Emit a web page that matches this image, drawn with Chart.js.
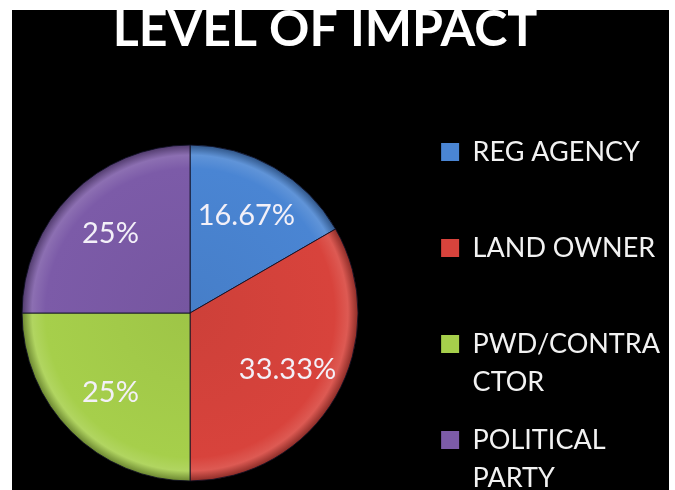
<!DOCTYPE html>
<html><head><meta charset="utf-8">
<script src="https://cdn.jsdelivr.net/npm/chart.js@4/dist/chart.umd.min.js"></script>
<style>
html,body{margin:0;padding:0;background:#fff;}
#wrap{position:relative;width:675px;height:490px;overflow:hidden;}
#bg{position:absolute;left:12px;top:10px;width:657px;height:480px;background:#000;}
canvas{position:absolute;left:0;top:0;}
</style></head><body>
<div id="wrap"><div id="bg"></div><canvas id="c" width="675" height="490"></canvas></div>
<script>
// ---- data ----
const categories = ['REG AGENCY', 'LAND OWNER', 'PWD/CONTRACTOR', 'POLITICAL PARTY'];
const legendLines = [['REG AGENCY', ''], ['LAND OWNER', ''], ['PWD/CONTRA', 'CTOR'], ['POLITICAL', 'PARTY']];
const shares = [16.67, 33.33, 25, 25];
const valueLabels = shares.map(v => v + '%');
const colors = ['#4a85d3', '#d8433c', '#a6cf4b', '#7c5ba8'];
const titleText = 'LEVEL OF IMPACT';

function mix(hex, target, t) {
  const n = parseInt(hex.slice(1), 16);
  const r = (n >> 16) & 255, g = (n >> 8) & 255, b = n & 255;
  const m = c => Math.round(c + (target - c) * t);
  return `rgb(${m(r)},${m(g)},${m(b)})`;
}

const PIE_R = 168;

function sliceFill(ctx) {
  const chart = ctx.chart;
  const area = chart.chartArea;
  const base = colors[ctx.dataIndex % colors.length];
  if (!area) return base;
  const cx = (area.left + area.right) / 2, cy = (area.top + area.bottom) / 2;
  const g = chart.ctx.createRadialGradient(cx, cy, 0, cx, cy, PIE_R);
  g.addColorStop(0, mix(base, 0, 0.05));
  g.addColorStop(0.86, base);
  g.addColorStop(0.94, mix(base, 255, 0.12));
  g.addColorStop(1, mix(base, 0, 0.35));
  return g;
}

// empty layout box placed between the pie and the legend
const pieSpacer = {
  id: 'pieSpacer',
  beforeInit(chart) {
    const box = {
      position: 'right', weight: 0, fullSize: false, options: { display: false },
      width: 0, height: 0, left: 0, top: 0, right: 0, bottom: 0,
      isHorizontal() { return false; },
      update(maxWidth, maxHeight) { this.width = 41; this.height = maxHeight; },
      draw() {}
    };
    Chart.layouts.addBox(chart, box);
  }
};

const pctLabels = {
  id: 'pctLabels',
  afterDatasetsDraw(chart) {
    const meta = chart.getDatasetMeta(0);
    const ctx = chart.ctx;
    ctx.save();
    ctx.font = '29px Lato';
    ctx.fillStyle = '#f3f0f8';
    ctx.textAlign = 'center';
    ctx.textBaseline = 'middle';
    meta.data.forEach((arc, i) => {
      const p = arc.getProps(['x', 'y', 'startAngle', 'endAngle', 'outerRadius'], true);
      const a = (p.startAngle + p.endAngle) / 2;
      const r = p.outerRadius * 0.67;
      ctx.fillText(valueLabels[i], p.x + Math.cos(a) * r, p.y + Math.sin(a) * r);
    });
    ctx.restore();
  }
};

new Chart(document.getElementById('c'), {
  type: 'pie',
  data: {
    labels: categories,
    datasets: [{
      data: shares,
      backgroundColor: sliceFill,
      borderColor: 'rgba(15,15,35,0.85)',
      borderWidth: 1,
      radius: PIE_R,
      clip: false
    }]
  },
  options: {
    responsive: false,
    animation: false,
    devicePixelRatio: 1,
    layout: { padding: { left: -20, right: 5, top: 0, bottom: -32.5 } },
    plugins: {
      title: {
        display: true, text: titleText, color: '#ffffff',
        font: { family: 'Lato', size: 50, weight: 'bold', lineHeight: 1.2 },
        padding: { top: 0, bottom: 76 }
      },
      legend: {
        position: 'right', align: 'end', fullSize: true,
        labels: {
          boxWidth: 18, boxHeight: 18, padding: 20, color: '#f2f2f2',
          font: { family: 'Lato', size: 27, lineHeight: 38 / 27 },
          generateLabels() {
            return legendLines.map((t, i) => ({
              text: t, fillStyle: colors[i], strokeStyle: colors[i], lineWidth: 0,
              hidden: false, index: i, fontColor: '#f2f2f2'
            }));
          }
        }
      },
      tooltip: { enabled: false }
    }
  },
  plugins: [pieSpacer, pctLabels]
});
</script>
</body></html>
